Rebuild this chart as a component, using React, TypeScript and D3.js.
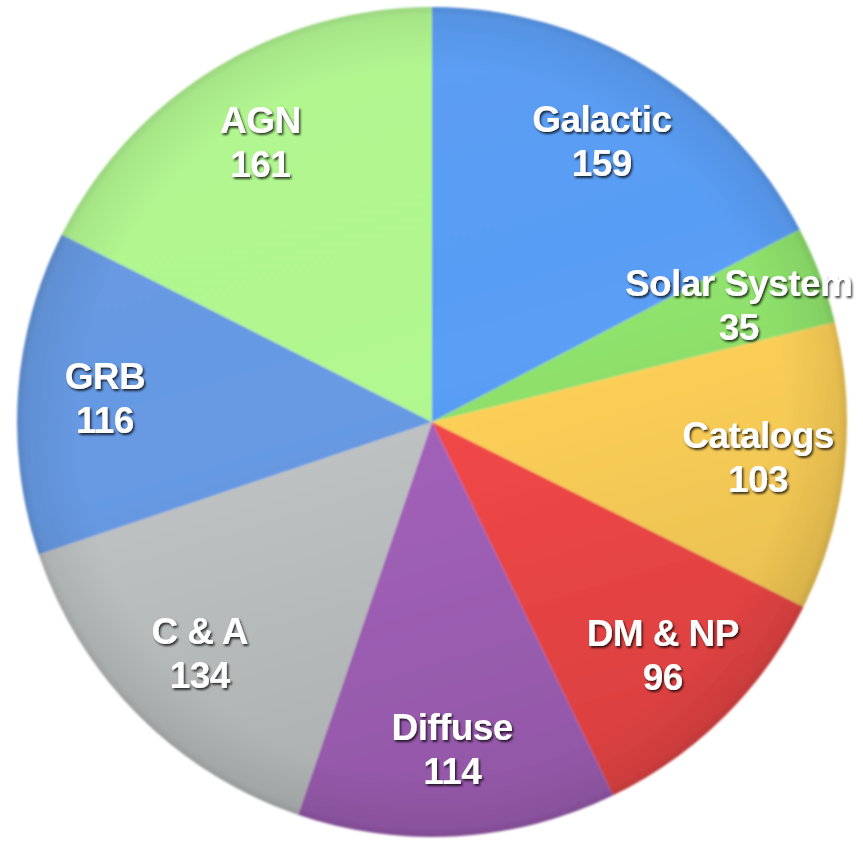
import React from 'react';
import { pie, arc, PieArcDatum } from 'd3';

const categories = ['Galactic', 'Solar System', 'Catalogs', 'DM & NP', 'Diffuse', 'C & A', 'GRB', 'AGN'];
const counts = [159, 35, 103, 96, 114, 134, 116, 161];
const colors = ['#5a9ef6', '#8fe26c', '#fed158', '#f44848', '#a462bb', '#bfc3c3', '#679ae4', '#b2f890'];

const width = 863;
const height = 843;
const cx = 432;
const cy = 422;
const radius = 415;
const labelRadius = 328;

type Slice = { name: string; value: number; color: string };

function App() {
  const data: Slice[] = categories.map((name, i) => ({ name, value: counts[i], color: colors[i] }));

  const pieGen = pie<Slice>()
    .value((d) => d.value)
    .sort(null);
  const arcs = pieGen(data);

  const sliceArc = arc<PieArcDatum<Slice>>().innerRadius(0).outerRadius(radius);
  const labelArc = arc<PieArcDatum<Slice>>().innerRadius(labelRadius).outerRadius(labelRadius);

  return (
    <svg width={width} height={height} style={{ position: 'absolute', left: 0, top: 0 }}>
      <defs>
        <linearGradient id="shade" x1="0" y1="0" x2="0.3" y2="1">
          <stop offset="0%" stopColor="#fff" stopOpacity={0.04} />
          <stop offset="55%" stopColor="#000" stopOpacity={0} />
          <stop offset="100%" stopColor="#000" stopOpacity={0.1} />
        </linearGradient>
        <radialGradient id="rim" cx="0.5" cy="0.5" r="0.5">
          <stop offset="85%" stopColor="#000" stopOpacity={0} />
          <stop offset="98%" stopColor="#000" stopOpacity={0.07} />
          <stop offset="100%" stopColor="#000" stopOpacity={0.14} />
        </radialGradient>
        <filter id="txtShadow" x="-20%" y="-30%" width="140%" height="160%">
          <feDropShadow dx="1.5" dy="2" stdDeviation="1.3" floodColor="#000" floodOpacity={0.75} />
        </filter>
        <filter id="soft">
          <feGaussianBlur stdDeviation="0.8" />
        </filter>
      </defs>
      <g transform={`translate(${cx}, ${cy})`}>
        <g filter="url(#soft)">
          {arcs.map((d, i) => (
            <path key={i} d={sliceArc(d) || ''} fill={d.data.color} />
          ))}
          <circle r={radius} fill="url(#shade)" />
          <circle r={radius} fill="url(#rim)" />
        </g>
        {arcs.map((d, i) => {
          const [x, y] = labelArc.centroid(d);
          return (
            <g
              key={i}
              transform={`translate(${x}, ${y})`}
              filter="url(#txtShadow)"
              fill="#fff"
              fontFamily="'Liberation Sans', Arial, Helvetica, sans-serif"
              fontWeight="bold"
              fontSize={37}
              letterSpacing={-0.6}
              textAnchor="middle"
            >
              <text y={-22} dominantBaseline="central">{d.data.name}</text>
              <text y={22} dominantBaseline="central">{d.data.value}</text>
            </g>
          );
        })}
      </g>
    </svg>
  );
}

export default App;
